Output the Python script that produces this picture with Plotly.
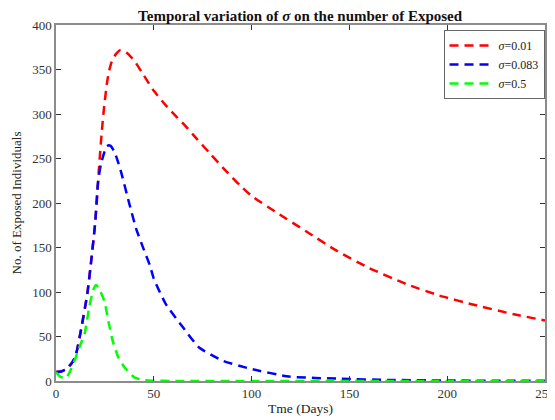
import plotly.graph_objects as go

# Data
days_red = [0, 3, 5, 8, 10, 13, 16, 18, 20, 21, 22, 23.4, 24.5, 26, 27, 28.5, 30.5, 33, 36, 40, 45, 50, 56, 62, 66, 72, 79, 86, 94, 100, 113, 128, 143, 160, 179, 196, 213, 234, 250]
exposed_red = [10, 11, 13, 20, 28, 60, 98, 135, 177, 205, 240, 280, 306, 334, 347, 359, 367, 372, 369, 360, 343, 326, 310, 296, 287, 272, 255, 238, 220, 208, 189, 168, 147, 127, 109, 96, 86, 75, 68]

days_blue = [0, 3, 5, 8, 10, 13, 16, 18, 20, 21.4, 23, 25.7, 27, 28, 30, 33, 37.5, 41, 45, 48, 50, 56, 65, 73, 85, 99, 119, 146, 170, 200, 250]
exposed_blue = [10, 11, 13, 20, 28, 60, 98, 135, 177, 222, 244, 263, 265, 264, 257, 237, 199, 171, 147, 130, 115, 87, 60, 38, 23, 14, 5, 2.5, 1.2, 0.5, 0.2]

days_green = [0, 2, 5, 7, 9.5, 12, 14.6, 17, 19, 20.5, 22, 24.7, 27, 29, 32, 35, 40, 45, 50, 60, 100, 150, 200, 250]
exposed_green = [10, 5, 3, 10, 23, 38, 53, 83, 102, 108, 104, 90, 65, 45, 26, 15.5, 4, 1, 0.3, 0.1, 0, 0, 0, 0]

labels = ["<i>σ</i>=0.01", "<i>σ</i>=0.083", "<i>σ</i>=0.5"]
colors = ["#ff0000", "#0000ff", "#00ff00"]

fig = go.Figure()
for x, y, name, c in zip([days_red, days_blue, days_green],
                         [exposed_red, exposed_blue, exposed_green],
                         labels, colors):
    fig.add_trace(go.Scatter(
        x=x, y=y, mode="lines", name=name,
        line=dict(color=c, width=2.5, dash="9px,6px", shape="spline", smoothing=0.5),
    ))

font_family = "Liberation Serif, Times New Roman, serif"
axis_common = dict(
    showgrid=False, zeroline=False, showline=True, mirror="allticks",
    linecolor="#8c8c8c", linewidth=1.5,
    ticks="inside", ticklen=5, tickcolor="#333333", tickwidth=1,
    tickfont=dict(family=font_family, size=13, color="#333333"),
    automargin=False,
)

# page body has an 8px margin, so the figure is sized to fit the 555x420 window
fig.update_layout(
    width=547, height=412,
    paper_bgcolor="white", plot_bgcolor="white",
    margin=dict(l=48, r=10, t=17, b=39, autoexpand=False),
    font=dict(family=font_family, color="#222222"),
    title=dict(
        text="<b>Temporal variation of <i>σ</i> on the number of Exposed</b>",
        x=0.534, xanchor="center", y=0.981, yanchor="middle",
        font=dict(family=font_family, size=15, color="#111111"),
        automargin=False,
    ),
    xaxis=dict(
        range=[0, 250], tickvals=[0, 50, 100, 150, 200, 250],
        title=dict(text="Tme (Days)", font=dict(family=font_family, size=13.5, color="#222222"), standoff=3),
        **axis_common,
    ),
    yaxis=dict(
        range=[0, 400], tickvals=[0, 50, 100, 150, 200, 250, 300, 350, 400],
        title=dict(text="No. of Exposed Individuals", font=dict(family=font_family, size=13, color="#222222"), standoff=8),
        **axis_common,
    ),
    legend=dict(
        x=0.999, y=0.986, xanchor="right", yanchor="top",
        bgcolor="white", bordercolor="#666666", borderwidth=1,
        font=dict(family=font_family, size=12, color="#222222"),
        tracegroupgap=0, itemwidth=44,
    ),
    showlegend=True,
)

fig.write_html("out.html")
